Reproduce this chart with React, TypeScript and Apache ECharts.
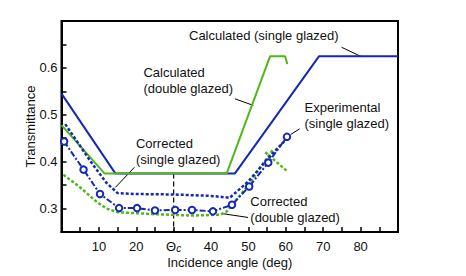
import { useEffect, useRef } from 'react';
import * as echarts from 'echarts';

const BLUE = '#1428b8';
const GREEN = '#52b81a';
const FONT = '"Liberation Sans", Arial, sans-serif';

// Calculated (single glazed) - blue solid
const calcSingleX = [0, 14.4, 46.4, 68.9, 90];
const calcSingleY = [0.545, 0.375, 0.375, 0.625, 0.625];
// Calculated (double glazed) - green solid
const calcDoubleX = [0, 11.5, 44.2, 55.8, 59.8, 60.4];
const calcDoubleY = [0.478, 0.375, 0.375, 0.625, 0.625, 0.608];
// Corrected (single glazed) - blue dotted
const corrSingleX = [1, 4, 8, 12, 15, 20, 30, 40, 45, 50, 55, 60];
const corrSingleY = [0.48, 0.445, 0.398, 0.355, 0.333, 0.331, 0.33, 0.327, 0.323, 0.358, 0.405, 0.447];
// Experimental (single glazed) - blue circles
const expX = [0.7, 5.9, 10.3, 15.4, 20.2, 25, 30.4, 34.9, 40.5, 45.6, 50.2, 55.3, 60.3];
const expY = [0.443, 0.383, 0.331, 0.301, 0.301, 0.296, 0.297, 0.297, 0.294, 0.308, 0.347, 0.398, 0.453];
// Corrected (double glazed) - green dotted (null = break)
const corrDoubleX = [0.5, 5, 9, 12, 15.2, 25, 35, 42.4, 44, 50, 56.5, 56.5, 54.5, 60.3];
const corrDoubleY = [0.372, 0.345, 0.317, 0.3, 0.292, 0.288, 0.285, 0.287, 0.292, 0.35, 0.425, null, 0.42, 0.38];

const thetaC = 30;
const thetaLineY = [0.375, 0.25];

const xLabels: Record<number, string> = {
  10: '10', 20: '20', 30: '{t|Θ}{c|c}', 40: '40', 50: '50', 60: '60', 70: '70', 80: '80',
};
const yLabelValues = [0.3, 0.4, 0.5, 0.6];
const xAxisName = 'Incidence angle (deg)';
const yAxisName = 'Transmittance';

const annTexts = [
  { lines: ['Calculated (single glazed)'], x: 34.1, y: 0.669 },
  { lines: ['Calculated', '(double glazed)'], x: 21.9, y: 0.59 },
  { lines: ['Corrected', '(single glazed)'], x: 19.9, y: 0.439 },
  { lines: ['Experimental', '(single glazed)'], x: 65, y: 0.515 },
  { lines: ['Corrected', '(double glazed)'], x: 50.5, y: 0.316 },
];
const leaders = [
  [[74.9, 0.644], [80.2, 0.624]],
  [[46.4, 0.534], [51.3, 0.52]],
  [[19.5, 0.388], [14.4, 0.345]],
  [[63.7, 0.47], [61.3, 0.458]],
  [[43.2, 0.289], [49.9, 0.281]],
];

const zip = (xs: number[], ys: (number | null)[]) =>
  xs.map((x, i) => [x, ys[i] === null ? '-' : ys[i]]);

export default function App() {
  const ref = useRef<HTMLDivElement>(null);
  useEffect(() => {
    document.body.style.margin = '0';
    const chart = echarts.init(ref.current!, undefined, { renderer: 'svg' });
    const gridL = 61.5, gridT = 21, gridW = 336.5, gridH = 211;
    const option: any = {
      animation: false,
      grid: {
        left: gridL, top: gridT, width: gridW, height: gridH,
        show: true, borderColor: '#000', borderWidth: 2, backgroundColor: 'transparent',
      },
      xAxis: {
        type: 'value', min: 0, max: 90, interval: 5,
        axisLine: { lineStyle: { color: '#000', width: 2 } },
        axisTick: { inside: true, length: 5, lineStyle: { color: '#000', width: 1.5 } },
        splitLine: { show: false },
        axisLabel: {
          margin: 8, fontFamily: FONT, fontSize: 13, color: '#111', lineHeight: 13,
          formatter: (v: number) => xLabels[Math.round(v)] ?? '',
          rich: {
            t: { fontFamily: FONT, fontSize: 13, color: '#111', lineHeight: 13 },
            c: { fontFamily: FONT, fontSize: 10, fontStyle: 'italic', color: '#111', lineHeight: 13, padding: [3, 0, 0, 0] },
          },
        },
      },
      yAxis: {
        type: 'value', min: 0.25, max: 0.7, interval: 0.05,
        axisLine: { show: true, lineStyle: { color: '#000', width: 2 } },
        axisTick: { show: true, inside: true, length: 5, lineStyle: { color: '#000', width: 1.5 } },
        splitLine: { show: false },
        axisLabel: {
          margin: 4, fontFamily: FONT, fontSize: 13, color: '#111',
          formatter: (v: number) => {
            const hit = yLabelValues.find((t) => Math.abs(t - v) < 1e-6);
            return hit !== undefined ? hit.toFixed(1) : '';
          },
        },
      },
      series: [
        {
          type: 'line', data: [[thetaC, thetaLineY[0]], [thetaC, thetaLineY[1]]], symbol: 'none',
          lineStyle: { color: '#000', width: 1.2, type: [5, 3] }, silent: true,
        },
        {
          name: 'Calculated (single glazed)', type: 'line', data: zip(calcSingleX, calcSingleY),
          symbol: 'none', lineStyle: { color: BLUE, width: 2 },
        },
        {
          name: 'Calculated (double glazed)', type: 'line', data: zip(calcDoubleX, calcDoubleY),
          symbol: 'none', lineStyle: { color: GREEN, width: 2 },
        },
        {
          name: 'Corrected (double glazed)', type: 'line', data: zip(corrDoubleX, corrDoubleY),
          symbol: 'none', connectNulls: false, lineStyle: { color: GREEN, width: 2.5, type: [3, 2] },
        },
        {
          name: 'Corrected (single glazed)', type: 'line', data: zip(corrSingleX, corrSingleY),
          symbol: 'none', lineStyle: { color: BLUE, width: 2.5, type: [3, 2] },
        },
        {
          name: 'Experimental (single glazed)', type: 'line', data: zip(expX, expY),
          symbol: 'circle', symbolSize: 6.5, showAllSymbol: true,
          itemStyle: { color: '#fff', borderColor: BLUE, borderWidth: 2 },
          lineStyle: { color: BLUE, width: 2, type: [6, 2, 2, 2] },
        },
      ],
    };
    chart.setOption(option);

    const px = (p: number[]) => chart.convertToPixel({ gridIndex: 0 }, p) as number[];
    const graphic: any[] = [];
    annTexts.forEach((a) => {
      const p = px([a.x, a.y]);
      a.lines.forEach((line, i) => {
        graphic.push({
          type: 'text', x: p[0], y: p[1] + i * 16,
          style: { text: line, font: `13px ${FONT}`, fill: '#111', textVerticalAlign: 'middle', textAlign: 'left' },
        });
      });
    });
    leaders.forEach((l) => {
      const a = px(l[0]);
      const b = px(l[1]);
      graphic.push({
        type: 'line', shape: { x1: a[0], y1: a[1], x2: b[0], y2: b[1] },
        style: { stroke: '#000', lineWidth: 1 },
      });
    });
    // axis titles
    graphic.push({
      type: 'text', x: gridL + gridW / 2, y: gridT + gridH + 30,
      style: { text: xAxisName, font: `13px ${FONT}`, fill: '#111', textAlign: 'center', textVerticalAlign: 'middle' },
    });
    graphic.push({
      type: 'text', x: 30, y: gridT + gridH / 2, rotation: Math.PI / 2,
      style: { text: yAxisName, font: `13px ${FONT}`, fill: '#111', textAlign: 'center', textVerticalAlign: 'middle' },
    });
    chart.setOption({ graphic });

    return () => chart.dispose();
  }, []);
  return <div ref={ref} style={{ width: 466, height: 276 }} />;
}
